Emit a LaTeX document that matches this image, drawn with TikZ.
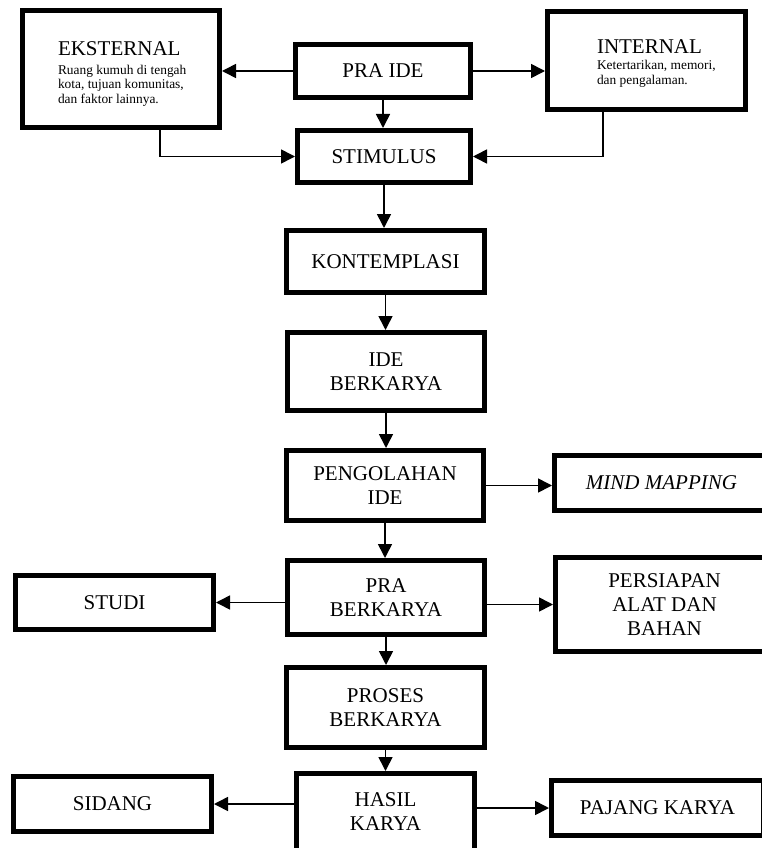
\documentclass[tikz,border=0pt]{standalone}
\usepackage{fontspec}
\setmainfont{Liberation Serif}
\usetikzlibrary{arrows.meta}
\newcommand{\smalltxt}{\fontsize{13.4}{14.5}\selectfont}

\begin{document}
\begin{tikzpicture}[x=1pt,y=-1pt,
    box/.style={draw,line width=5pt,rectangle,inner sep=0pt,align=center,font=\fontsize{21}{24}\selectfont},
    arr/.style={line width=1.6pt,-{Triangle[length=14pt,width=14pt]}}]
    \useasboundingbox (0,0) rectangle (761,848);

    \node[box,minimum width=197pt,minimum height=117pt] (eks) at (121,69)
      {\parbox{140pt}{\raggedright\leftskip=7pt\vspace*{10pt}EKSTERNAL\par\vspace{4.2pt}\smalltxt
       Ruang kumuh di tengah\\kota, tujuan komunitas,\\dan faktor lainnya.}};
    \node[box,minimum width=175pt,minimum height=53pt] (praide) at (383,71) {PRA IDE};
    \node[box,minimum width=198pt,minimum height=98pt] (int) at (646.5,60.5)
      {\parbox{140pt}{\raggedright\leftskip=20.5pt\vspace*{6pt}INTERNAL\par\vspace{1.5pt}\smalltxt
       Ketertarikan, memori,\\dan pengalaman.}};
    \node[box,minimum width=173pt,minimum height=52pt] (stim) at (384,156.5) {STIMULUS};
    \node[box,minimum width=198pt,minimum height=62pt] (kon) at (385.5,261.5) {KONTEMPLASI};
    \node[box,minimum width=197pt,minimum height=78pt] (ide) at (386,371.5) {IDE\\BERKARYA};
    \node[box,minimum width=197pt,minimum height=70pt] (peng) at (385,485.5) {PENGOLAHAN\\IDE};
    \node[box,minimum width=214pt,minimum height=55pt] (mind) at (661.5,483) {\itshape MIND MAPPING};
    \node[box,minimum width=197pt,minimum height=74pt] (prab) at (386,597.5) {PRA\\BERKARYA};
    \node[box,minimum width=198pt,minimum height=54pt] (studi) at (114.5,602.5) {STUDI};
    \node[box,minimum width=218pt,minimum height=94pt] (pers) at (664.5,604.5) {PERSIAPAN\\ALAT DAN\\BAHAN};
    \node[box,minimum width=198pt,minimum height=80pt] (pros) at (385.5,707.5) {PROSES\\BERKARYA};
    \node[box,minimum width=178pt,minimum height=77pt] (hasil) at (385.5,812) {HASIL\\KARYA};
    \node[box,minimum width=198pt,minimum height=55pt] (sidang) at (112.5,804) {SIDANG};
    \node[box,minimum width=212pt,minimum height=55pt] (pajang) at (657.5,808) {PAJANG KARYA};

    \draw[arr] (praide) -- (praide -| eks.east);
    \draw[arr] (praide) -- (praide -| int.west);
    \draw[arr] (praide) -- (praide |- stim.north);
    \draw[arr] ([xshift=39pt]eks.south) |- (stim);
    \draw[arr] ([xshift=-43.5pt]int.south) |- (stim);
    \draw[arr] (stim) -- (stim |- kon.north);
    \draw[arr] (kon) -- (kon |- ide.north);
    \draw[arr] (ide) -- (ide |- peng.north);
    \draw[arr] (peng) -- (peng -| mind.west);
    \draw[arr] (peng) -- (peng |- prab.north);
    \draw[arr] (studi -| prab.west) -- (studi);
    \draw[arr] (pers -| prab.east) -- (pers);
    \draw[arr] (prab) -- (prab |- pros.north);
    \draw[arr] (pros) -- (pros |- hasil.north);
    \draw[arr] (sidang -| hasil.west) -- (sidang);
    \draw[arr] (pajang -| hasil.east) -- (pajang);
  \end{tikzpicture}
\end{document}
